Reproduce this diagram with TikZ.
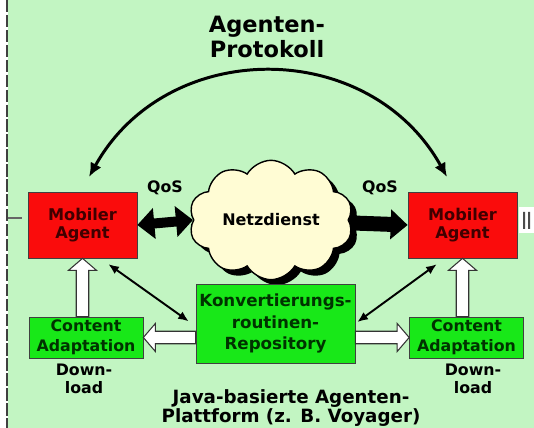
\documentclass[tikz,border=0pt]{standalone}
\usepackage{fontspec}
\setmainfont{DejaVu Sans}
\usetikzlibrary{arrows.meta,calc,shapes.symbols,shadows,backgrounds}
\definecolor{pale}{RGB}{194,245,194}
\definecolor{agred}{RGB}{250,12,12}
\definecolor{boxgreen}{RGB}{24,232,24}
\definecolor{cream}{RGB}{255,252,212}
\tikzset{agent/.style={draw=black!75,fill=agred,text=black!75!red,align=center,minimum width=2.18cm,minimum height=1.32cm,font=\bfseries\fontsize{9.2}{10.4}\selectfont},
content/.style={draw=black!75,fill=boxgreen,text=black!80!green,align=center,inner sep=1pt,minimum width=2.28cm,minimum height=0.82cm,font=\bfseries\fontsize{9}{11.2}\selectfont},
repo/.style={content,minimum width=3.18cm,minimum height=1.58cm,font=\bfseries\fontsize{9.5}{12.2}\selectfont},
lab/.style={align=center,inner sep=1pt,font=\bfseries\fontsize{9}{10.5}\selectfont},
fat/.style={line width=0.2cm,{Triangle[length=0.34cm,width=0.6cm]}-{Triangle[length=0.34cm,width=0.6cm]}},
link/.style={line width=1.1pt,{Latex[length=6pt,width=5pt]}-{Latex[length=6pt,width=5pt]}},
proto/.style={line width=1.7pt,{Latex[length=8pt,width=7pt]}-{Latex[length=8pt,width=7pt]}},
hollow/.style={draw=black!80,fill=white,line width=0.6pt,to path={let \p1=($(\tikztotarget)!0.24cm!(\tikztostart)$) in
 ($(\tikztostart)!0.125cm!90:(\tikztotarget)$) -- ($(\p1)!0.125cm!90:(\tikztotarget)$) -- ($(\p1)!0.28cm!90:(\tikztotarget)$) -- (\tikztotarget)
 -- ($(\p1)!0.28cm!-90:(\tikztotarget)$) -- ($(\p1)!0.125cm!-90:(\tikztotarget)$) -- ($(\tikztostart)!0.125cm!-90:(\tikztotarget)$) -- cycle}}}
\begin{document}
\begin{tikzpicture}[x=0.02cm,y=-0.02cm]
\useasboundingbox (0,0) rectangle (534,428);
\begin{scope}[on background layer]
\fill[pale] (8,0) rectangle (534,428);
\draw[black!75,line width=0.9pt,dash pattern=on 7pt off 1.5pt] (7,0) -- (7,428);
\draw[black!60,line width=0.6pt] (8,218) -- (22,218);
\fill[white] (519,207) rectangle (534,233);
\fill[black!70] (523,212) rectangle (525,229) (528,212) rectangle (530,229);
\end{scope}

\node[font=\bfseries\fontsize{12.8}{14.2}\selectfont,align=center] (title) at (267,37) {Agenten-\\Protokoll};
\node[agent] (mal) at (82.5,225) {Mobiler\\Agent};
\node[agent] (mar) at (462.5,225) {Mobiler\\Agent};
\node[cloud,cloud puffs=10,cloud puff arc=120,aspect=1.6,draw,fill=cream,line width=0.8pt,minimum width=3.15cm,minimum height=1.6cm,
 drop shadow={fill=black,opacity=1,shadow xshift=0.12cm,shadow yshift=-0.11cm},font=\bfseries\fontsize{9.1}{11}\selectfont] (net) at (271,220) {Netzdienst};
\node[repo] (konv) at (275.5,323.5) {Konvertierungs-\\routinen-\\Repository};
\node[content] (cal) at (86,337.5) {Content\\Adaptation};
\node[content] (car) at (466.5,337.5) {Content\\Adaptation};
\node[lab] (qosl) at (165,188) {QoS};
\node[lab] (qosr) at (380,188) {QoS};
\node[lab] (dll) at (84,379) {Down-\\load};
\node[lab] (dlr) at (473,379) {Down-\\load};
\node[lab,font=\bfseries\fontsize{10.4}{9}\selectfont] (java) at (291,408) {Java-basierte Agenten-\\Plattform (z. B. Voyager)};

\coordinate (pl) at (89,177);
\coordinate (pr) at (447,177);
\draw[proto] (pl) .. controls (167,37) and (369,37) .. (pr);

\draw[fat] (mal.east) -- (net.west);
\begin{scope}[on background layer]
\draw[line width=0.3cm,-{Triangle[length=0.34cm,width=0.58cm]}] (net) -- (mar.west);
\end{scope}

\draw[link,shorten <=0.2cm,shorten >=0.17cm] (mal.-62) -- (konv.182);
\draw[link,shorten <=0.2cm,shorten >=0.05cm] (mar.-118) -- (konv.east);

\coordinate (ul) at (mal.south |- cal.north);
\coordinate (ur) at (mar.south |- car.north);
\coordinate (hl) at (konv.west |- cal.east);
\coordinate (hr) at (konv.east |- car.west);
\draw[hollow] (ul) to (mal.south);
\draw[hollow] (ur) to (mar.south);
\draw[hollow] (hl) to (cal.east);
\draw[hollow] (hr) to (car.west);
\end{tikzpicture}
\end{document}
